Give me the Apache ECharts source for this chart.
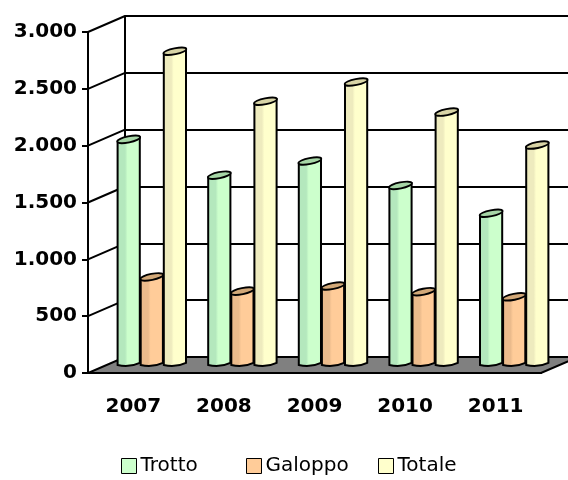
<!DOCTYPE html>
<html>
<head>
<meta charset="utf-8">
<script src="https://cdn.jsdelivr.net/npm/echarts@6/dist/echarts.min.js"></script>
<style>
  html,body{margin:0;padding:0;background:#fff;}
  #main{width:568px;height:480px;}
</style>
</head>
<body>
<div id="main"></div>
<script>
// dati
const years = ['2007', '2008', '2009', '2010', '2011'];
const trotto = [1985, 1670, 1795, 1580, 1335];
const galoppo = [775, 650, 695, 645, 600];
const totale = [2760, 2320, 2490, 2225, 1935];
const yTicks = [0, 500, 1000, 1500, 2000, 2500, 3000];
const names = ['Trotto', 'Galoppo', 'Totale'];

// profondita' finta 3D (pixel)
const DX = 37, DY = -16;
const FONT = 'DejaVu Sans';

function fmt(v){
  return String(v).replace(/\B(?=(\d{3})+(?!\d))/g, '.');
}

// cilindro: offset = posizione nel gruppo (-1,0,1)
function cylinder(offset, dark, light, topCol){
  return function(params, api){
    const cat = api.value(0), v = api.value(1);
    const top = api.coord([cat, v]);
    const base = api.coord([cat, 0]);
    const bw = api.size([1, 0])[0];
    const w = bw * 0.245;
    const cx = top[0] + DX / 2 + offset * bw * 0.255;
    const x0 = cx - w / 2, x1 = cx + w / 2;
    const ty = top[1] + DY / 2, by = base[1] + DY / 2;
    const sl = 2.2;
    const body = 'M' + x0 + ' ' + (ty + sl) + ' L' + x0 + ' ' + by +
      ' Q' + cx + ' ' + (by + 3) + ' ' + x1 + ' ' + (by - sl) +
      ' L' + x1 + ' ' + (ty - sl) + ' Z';
    return {
      type: 'group',
      children: [{
        type: 'path',
        shape: {pathData: body},
        style: {
          fill: new echarts.graphic.LinearGradient(0, 0, 1, 0, [
            {offset: 0, color: dark},
            {offset: 0.35, color: dark},
            {offset: 0.45, color: light},
            {offset: 1, color: light}
          ]),
          stroke: '#000', lineWidth: 2
        }
      }, {
        type: 'ellipse',
        x: cx, y: ty,
        rotation: Math.atan2(sl * 2, w),
        shape: {cx: 0, cy: 0, rx: w / 2 + 0.5, ry: 3},
        style: {fill: topCol, stroke: '#000', lineWidth: 1.8}
      }]
    };
  };
}

// pavimento e pareti laterali
function decor(params, api){
  const bw = api.size([1, 0])[0];
  const xl = api.coord([0, 0])[0] - bw / 2;
  const xr = api.coord([years.length - 1, 0])[0] + bw / 2;
  const y0 = api.coord([0, 0])[1];
  const kids = [{
    type: 'polygon',
    shape: {points: [[xl, y0], [xr, y0], [xr + DX, y0 + DY], [xl + DX, y0 + DY]]},
    style: {fill: '#808080', stroke: '#000', lineWidth: 2}
  }];
  yTicks.slice(1).forEach(t => {
    const y = api.coord([0, t])[1];
    kids.push({
      type: 'line',
      shape: {x1: xl, y1: y, x2: xl + DX, y2: y + DY},
      style: {stroke: '#000', lineWidth: 2}
    });
  });
  return {type: 'group', children: kids};
}

const chart = echarts.init(document.getElementById('main'));
const lab = {color: '#000', fontFamily: FONT, fontSize: 20, fontWeight: 'bold'};

const legendLeft = [116, 241, 373];
const legends = names.map((n, i) => ({
  top: 451, left: legendLeft[i],
  itemWidth: 15, itemHeight: 15, itemGap: 10,
  icon: 'rect',
  itemStyle: {borderColor: '#000', borderWidth: 1},
  textStyle: {color: '#000', fontFamily: FONT, fontSize: 20, padding: [0, 0, 0, -1]},
  data: [n]
}));

chart.setOption({
  backgroundColor: '#fff',
  animation: false,
  textStyle: {fontFamily: FONT},
  grid: [
    {left: 88, right: 27, top: 32, bottom: 107},
    {left: 125, right: -10, top: 16, bottom: 123}
  ],
  xAxis: [{
    type: 'category', gridIndex: 0, data: years, boundaryGap: true, z: 5,
    axisLine: {lineStyle: {color: '#000', width: 2}},
    axisTick: {length: 7, lineStyle: {color: '#000', width: 2}},
    axisLabel: Object.assign({margin: 24}, lab)
  }, {
    type: 'value', gridIndex: 1, show: false
  }],
  yAxis: [{
    type: 'value', gridIndex: 0, min: 0, max: 3000, interval: 500, z: 5,
    axisLine: {show: true, lineStyle: {color: '#000', width: 2}},
    axisTick: {show: true, length: 6, lineStyle: {color: '#000', width: 2}},
    axisLabel: Object.assign({margin: 11, formatter: fmt}, lab),
    splitLine: {show: false}
  }, {
    type: 'value', gridIndex: 1, min: 0, max: 3000, interval: 500,
    axisLine: {show: true, lineStyle: {color: '#000', width: 2}},
    axisTick: {show: false},
    axisLabel: {show: false},
    splitLine: {show: true, lineStyle: {color: '#000', width: 2}}
  }],
  legend: legends,
  series: [{
    type: 'custom', xAxisIndex: 0, yAxisIndex: 0, z: 1, silent: true,
    renderItem: decor, data: [[0, 0]], encode: {x: 0, y: 1}
  }, {
    name: 'Trotto', type: 'custom', xAxisIndex: 0, yAxisIndex: 0, z: 3,
    itemStyle: {color: '#CCFFCC'},
    renderItem: cylinder(-1, '#B4E8BD', '#CCFFCC', '#A6D6A6'),
    data: trotto.map((v, i) => [i, v]), encode: {x: 0, y: 1}
  }, {
    name: 'Galoppo', type: 'custom', xAxisIndex: 0, yAxisIndex: 0, z: 3,
    itemStyle: {color: '#FFCC99'},
    renderItem: cylinder(0, '#EBBB8C', '#FFCC99', '#D2A878'),
    data: galoppo.map((v, i) => [i, v]), encode: {x: 0, y: 1}
  }, {
    name: 'Totale', type: 'custom', xAxisIndex: 0, yAxisIndex: 0, z: 3,
    itemStyle: {color: '#FFFFCC'},
    renderItem: cylinder(1, '#EEEBBE', '#FFFFCC', '#D8D4A6'),
    data: totale.map((v, i) => [i, v]), encode: {x: 0, y: 1}
  }]
});
</script>
</body>
</html>
